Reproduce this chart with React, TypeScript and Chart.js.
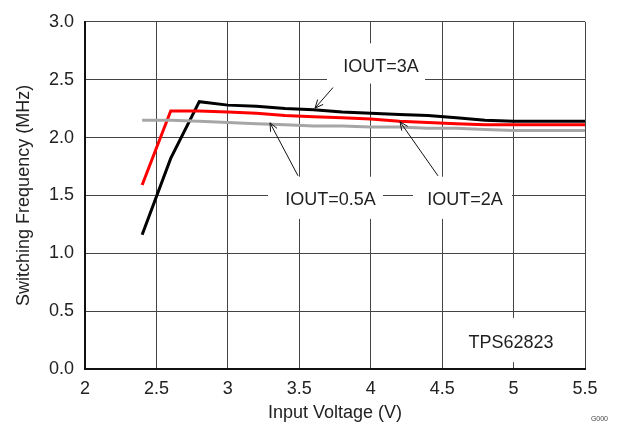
import React, { useEffect, useRef } from 'react';
import { Chart, registerables } from 'chart.js';

Chart.register(...registerables);

// ---- Data ----
const vin3A = [2.4, 2.6, 2.8, 3.0, 3.2, 3.4, 3.6, 3.8, 4.0, 4.2, 4.4, 4.6, 4.8, 5.0, 5.2, 5.5];
const fsw3A = [1.16, 1.82, 2.31, 2.28, 2.27, 2.25, 2.24, 2.22, 2.21, 2.2, 2.19, 2.17, 2.15, 2.14, 2.14, 2.14];

const vin2A = [2.4, 2.6, 2.8, 3.0, 3.2, 3.4, 3.6, 3.8, 4.0, 4.2, 4.4, 4.6, 4.8, 5.0, 5.2, 5.5];
const fsw2A = [1.59, 2.23, 2.23, 2.22, 2.21, 2.19, 2.18, 2.17, 2.16, 2.14, 2.13, 2.12, 2.11, 2.11, 2.11, 2.11];

const vin05A = [2.4, 2.6, 2.8, 3.0, 3.2, 3.4, 3.6, 3.8, 4.0, 4.2, 4.4, 4.6, 4.8, 5.0, 5.2, 5.5];
const fsw05A = [2.15, 2.15, 2.14, 2.13, 2.12, 2.11, 2.1, 2.1, 2.09, 2.09, 2.08, 2.08, 2.07, 2.06, 2.06, 2.06];

const xTickValues = [2, 2.5, 3, 3.5, 4, 4.5, 5, 5.5];
const xTickLabels = ['2', '2.5', '3', '3.5', '4', '4.5', '5', '5.5'];
const yTickValues = [0, 0.5, 1, 1.5, 2, 2.5, 3];
const yTickLabels = ['0.0', '0.5', '1.0', '1.5', '2.0', '2.5', '3.0'];

const xTitle = 'Input Voltage (V)';
const yTitle = 'Switching Frequency (MHz)';
const cornerNote = 'G000';

// Annotations in data units
const noteLabels = ['IOUT=3A', 'IOUT=0.5A', 'IOUT=2A', 'TPS62823'];
const noteTextX = [4.072, 3.7185, 4.66, 4.982];
const noteTextY = [2.606, 1.462, 1.462, 0.225];
const noteBoxX0 = [3.694, 3.281, 4.296, 4.59];
const noteBoxX1 = [4.38, 4.086, 4.989, 5.4];
const noteBoxY0 = [2.466, 1.297, 1.297, 0.059];
const noteBoxY1 = [2.814, 1.661, 1.661, 0.441];

const arrowFromX = [3.736, 3.491, 4.471];
const arrowFromY = [2.432, 1.669, 1.669];
const arrowToX = [3.61, 3.295, 4.205];
const arrowToY = [2.254, 2.127, 2.136];

const FONT = '"Liberation Sans", Arial, sans-serif';

const toPoints = (xs: number[], ys: number[]) => xs.map((x, i) => ({ x, y: ys[i] }));

const notesPlugin = {
  id: 'notes',
  beforeDatasetsDraw(chart: any) {
    const { ctx, scales } = chart;
    const xs = scales.x;
    const ys = scales.y;
    ctx.save();
    ctx.fillStyle = '#ffffff';
    for (let i = 0; i < noteLabels.length; i++) {
      const x0 = xs.getPixelForValue(noteBoxX0[i]);
      const x1 = xs.getPixelForValue(noteBoxX1[i]);
      const y0 = ys.getPixelForValue(noteBoxY1[i]);
      const y1 = ys.getPixelForValue(noteBoxY0[i]);
      ctx.fillRect(x0, y0, x1 - x0, y1 - y0);
    }
    ctx.restore();
  },
  afterDatasetsDraw(chart: any) {
    const { ctx, scales } = chart;
    const xs = scales.x;
    const ys = scales.y;
    ctx.save();
    ctx.fillStyle = '#1f1f1f';
    ctx.font = `18px ${FONT}`;
    ctx.textAlign = 'center';
    ctx.textBaseline = 'middle';
    for (let i = 0; i < noteLabels.length; i++) {
      ctx.fillText(noteLabels[i], xs.getPixelForValue(noteTextX[i]), ys.getPixelForValue(noteTextY[i]));
    }
    ctx.strokeStyle = '#111';
    ctx.lineWidth = 1;
    for (let i = 0; i < arrowFromX.length; i++) {
      const fx = xs.getPixelForValue(arrowFromX[i]);
      const fy = ys.getPixelForValue(arrowFromY[i]);
      const tx = xs.getPixelForValue(arrowToX[i]);
      const ty = ys.getPixelForValue(arrowToY[i]);
      ctx.beginPath();
      ctx.moveTo(fx, fy);
      ctx.lineTo(tx, ty);
      const ang = Math.atan2(ty - fy, tx - fx);
      const len = 9;
      const spread = 0.42;
      ctx.moveTo(tx - len * Math.cos(ang - spread), ty - len * Math.sin(ang - spread));
      ctx.lineTo(tx, ty);
      ctx.lineTo(tx - len * Math.cos(ang + spread), ty - len * Math.sin(ang + spread));
      ctx.stroke();
    }
    ctx.font = `7px ${FONT}`;
    ctx.fillStyle = '#444';
    ctx.textAlign = 'right';
    ctx.fillText(cornerNote, chart.width - 10, chart.height - 8);
    ctx.restore();
  },
};

export default function App() {
  const canvasRef = useRef<HTMLCanvasElement | null>(null);

  useEffect(() => {
    if (!canvasRef.current) return;
    const chart = new Chart(canvasRef.current, {
      type: 'line',
      data: {
        datasets: [
          {
            label: 'IOUT=0.5A',
            data: toPoints(vin05A, fsw05A),
            borderColor: '#a6a6a6',
            borderWidth: 3,
            pointRadius: 0,
            tension: 0,
          },
          {
            label: 'IOUT=2A',
            data: toPoints(vin2A, fsw2A),
            borderColor: '#ff0000',
            borderWidth: 3,
            pointRadius: 0,
            tension: 0,
          },
          {
            label: 'IOUT=3A',
            data: toPoints(vin3A, fsw3A),
            borderColor: '#000000',
            borderWidth: 3,
            pointRadius: 0,
            tension: 0,
          },
        ],
      },
      options: {
        responsive: false,
        animation: false,
        events: [],
        layout: { padding: { left: 0, right: 33, top: 15, bottom: 0 } },
        plugins: {
          legend: { display: false },
          tooltip: { enabled: false },
        },
        scales: {
          x: {
            type: 'linear',
            min: 2,
            max: 5.5,
            afterBuildTicks: (scale: any) => {
              scale.ticks = xTickValues.map((v) => ({ value: v }));
            },
            afterFit: (scale: any) => {
              scale.height = 58;
            },
            ticks: {
              callback: (v: any) => xTickLabels[xTickValues.indexOf(Number(v))] ?? '',
              font: { family: FONT, size: 18 },
              color: '#222',
              padding: 9,
              maxRotation: 0,
              autoSkip: false,
            },
            grid: { color: '#444', lineWidth: 1, drawTicks: false },
            border: { color: '#111', width: 2 },
            title: {
              display: true,
              text: xTitle,
              font: { family: FONT, size: 18 },
              color: '#222',
              padding: { top: 0, bottom: 3 },
            },
          },
          y: {
            type: 'linear',
            min: 0,
            max: 3,
            afterBuildTicks: (scale: any) => {
              scale.ticks = yTickValues.map((v) => ({ value: v }));
            },
            afterFit: (scale: any) => {
              scale.width = 85;
            },
            ticks: {
              callback: (v: any) => yTickLabels[yTickValues.indexOf(Number(v))] ?? '',
              font: { family: FONT, size: 18 },
              color: '#222',
              padding: 11,
              autoSkip: false,
            },
            grid: { color: '#444', lineWidth: 1, drawTicks: false },
            border: { color: '#111', width: 2 },
            title: {
              display: true,
              text: yTitle,
              font: { family: FONT, size: 18 },
              color: '#222',
              padding: { top: 13, bottom: 0 },
            },
          },
        },
      },
      plugins: [notesPlugin],
    });
    return () => chart.destroy();
  }, []);

  return (
    <div style={{ position: 'absolute', left: 0, top: 0, width: 618, height: 427, background: '#fff' }}>
      <canvas ref={canvasRef} width={618} height={427} />
    </div>
  );
}
